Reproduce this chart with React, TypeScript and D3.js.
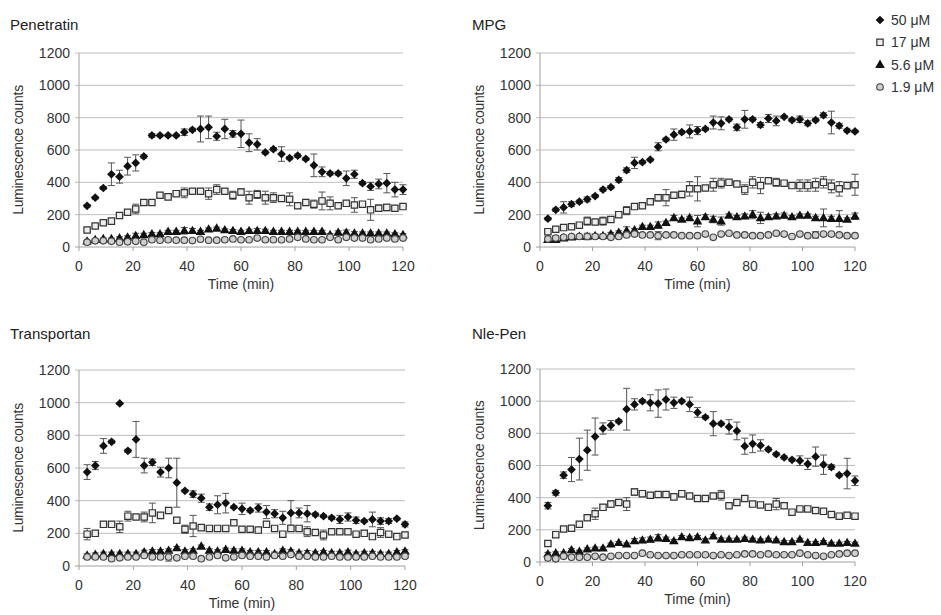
import React from "react";
import * as d3 from "d3";

// sampling times (min)
const times = [3, 6, 9, 12, 15, 18, 21, 24, 27, 30, 33, 36, 39, 42, 45, 48, 51, 54, 57, 60, 63, 66, 69, 72, 75, 78, 81, 84, 87, 90, 93, 96, 99, 102, 105, 108, 111, 114, 117, 120];
const yTicks = [0, 200, 400, 600, 800, 1000, 1200];
const xTicks = [0, 20, 40, 60, 80, 100, 120];
const concLabels = ["50 μM", "17 μM", "5.6 μM", "1.9 μM"];

// Penetratin
const pen50 = [255, 305, 365, 450, 435, 500, 520, 560, 690, 690, 690, 690, 710, 725, 730, 740, 685, 730, 700, 700, 645, 635, 585, 605, 575, 550, 565, 545, 505, 465, 455, 455, 425, 450, 395, 375, 390, 395, 355, 355];
const pen50Err = [8, 8, 8, 70, 40, 55, 50, 10, 12, 8, 8, 8, 20, 10, 80, 70, 25, 60, 20, 85, 55, 35, 10, 10, 45, 10, 10, 10, 70, 30, 10, 10, 45, 25, 10, 25, 30, 60, 45, 30];
const pen17 = [105, 130, 150, 160, 195, 215, 235, 275, 275, 320, 310, 330, 335, 345, 345, 330, 355, 345, 320, 340, 305, 325, 305, 305, 300, 295, 255, 275, 265, 285, 270, 255, 270, 260, 265, 230, 240, 245, 240, 250];
const pen17Err = [10, 8, 8, 8, 8, 8, 30, 15, 10, 10, 8, 10, 30, 10, 10, 35, 30, 10, 25, 20, 40, 25, 40, 30, 10, 40, 15, 10, 25, 55, 40, 10, 10, 45, 10, 65, 20, 20, 10, 10];
const pen56 = [35, 45, 50, 50, 55, 60, 70, 75, 80, 80, 95, 95, 100, 100, 95, 110, 115, 105, 100, 95, 100, 100, 100, 95, 95, 95, 95, 95, 95, 95, 75, 90, 90, 85, 85, 85, 85, 85, 80, 75];
const pen56Err = [5, 5, 5, 5, 8, 10, 15, 10, 10, 8, 8, 8, 20, 15, 8, 8, 8, 8, 8, 8, 10, 15, 10, 8, 8, 8, 8, 8, 8, 8, 8, 10, 15, 10, 8, 8, 8, 8, 8, 8];
const pen19 = [30, 38, 38, 35, 30, 32, 35, 30, 45, 42, 45, 42, 42, 40, 48, 42, 42, 45, 50, 45, 45, 55, 45, 45, 45, 50, 60, 50, 45, 45, 60, 45, 60, 55, 55, 45, 50, 55, 50, 55];
const pen19Err = [5, 6, 6, 6, 8, 8, 8, 5, 8, 6, 6, 6, 6, 6, 6, 6, 6, 6, 6, 6, 6, 8, 6, 6, 6, 8, 8, 6, 6, 6, 8, 6, 8, 8, 8, 6, 6, 6, 6, 6];

// MPG
const mpg50 = [175, 230, 245, 265, 280, 295, 315, 355, 370, 415, 475, 520, 525, 540, 620, 665, 695, 710, 715, 720, 730, 770, 765, 790, 740, 790, 790, 755, 795, 780, 805, 785, 790, 765, 785, 815, 770, 750, 720, 715];
const mpg50Err = [8, 10, 35, 15, 10, 15, 10, 10, 10, 15, 15, 35, 10, 8, 25, 10, 35, 10, 40, 25, 10, 40, 40, 10, 20, 55, 10, 15, 25, 30, 8, 10, 20, 15, 10, 15, 70, 15, 10, 8];
const mpg17 = [95, 110, 120, 125, 135, 160, 155, 160, 170, 200, 225, 250, 255, 280, 305, 305, 320, 325, 360, 360, 365, 385, 395, 400, 390, 355, 400, 380, 410, 400, 395, 380, 380, 380, 385, 400, 375, 360, 380, 385];
const mpg17Err = [8, 8, 8, 8, 10, 25, 10, 25, 15, 10, 25, 10, 10, 10, 20, 50, 15, 20, 45, 75, 15, 40, 30, 10, 15, 30, 35, 50, 10, 25, 10, 10, 35, 35, 40, 35, 40, 45, 20, 65];
const mpg56 = [45, 45, 55, 60, 65, 65, 70, 70, 80, 90, 100, 105, 125, 125, 135, 150, 180, 170, 180, 160, 185, 170, 160, 195, 185, 190, 200, 180, 185, 190, 195, 185, 195, 195, 180, 180, 175, 175, 170, 190];
const mpg56Err = [8, 8, 8, 8, 8, 8, 10, 10, 10, 10, 25, 10, 10, 10, 20, 10, 15, 10, 10, 35, 15, 20, 25, 10, 10, 15, 25, 35, 15, 15, 15, 10, 10, 10, 10, 55, 15, 50, 10, 20];
const mpg19 = [50, 55, 60, 65, 65, 65, 65, 65, 60, 65, 75, 80, 75, 75, 70, 75, 75, 70, 70, 70, 80, 60, 80, 85, 75, 75, 70, 70, 75, 85, 80, 65, 80, 70, 75, 80, 80, 75, 70, 70];
const mpg19Err = [10, 15, 10, 10, 8, 20, 10, 8, 8, 8, 10, 10, 8, 8, 25, 10, 10, 8, 8, 8, 8, 8, 8, 8, 8, 8, 8, 8, 8, 10, 8, 8, 8, 8, 20, 8, 8, 8, 8, 8];

// Transportan
const tra50 = [575, 615, 735, 760, 995, 705, 775, 615, 635, 575, 600, 510, 460, 440, 415, 360, 375, 385, 360, 350, 340, 355, 330, 320, 295, 325, 325, 320, 315, 305, 295, 285, 300, 280, 275, 285, 275, 275, 290, 255];
const tra50Err = [45, 25, 45, 10, 5, 10, 110, 45, 20, 30, 60, 150, 8, 20, 25, 20, 55, 60, 8, 35, 10, 25, 40, 25, 40, 75, 30, 50, 10, 8, 10, 25, 25, 20, 8, 45, 20, 15, 8, 15];
const tra17 = [195, 200, 255, 255, 240, 305, 300, 300, 325, 310, 340, 280, 225, 245, 235, 230, 230, 230, 265, 225, 225, 220, 255, 230, 195, 230, 230, 210, 205, 190, 210, 210, 210, 195, 200, 180, 205, 195, 180, 190];
const tra17Err = [35, 10, 10, 10, 35, 30, 10, 30, 60, 10, 10, 10, 25, 65, 10, 10, 10, 10, 10, 10, 10, 10, 10, 10, 15, 10, 10, 30, 10, 30, 10, 10, 10, 10, 15, 10, 30, 10, 10, 15];
const tra56 = [65, 70, 75, 75, 75, 75, 75, 85, 90, 90, 95, 110, 90, 95, 120, 95, 90, 100, 95, 95, 85, 85, 85, 75, 95, 90, 80, 80, 80, 85, 80, 80, 85, 75, 80, 80, 75, 75, 85, 90];
const tra56Err = [10, 10, 10, 10, 10, 10, 10, 12, 10, 10, 10, 10, 10, 10, 8, 10, 10, 10, 10, 10, 10, 10, 10, 10, 10, 10, 10, 15, 10, 10, 10, 10, 12, 10, 10, 10, 10, 10, 10, 10];
const tra19 = [55, 55, 55, 45, 50, 55, 55, 65, 55, 55, 55, 50, 60, 60, 45, 55, 65, 50, 55, 65, 60, 60, 55, 65, 60, 70, 60, 60, 55, 55, 60, 55, 55, 55, 55, 60, 55, 55, 55, 60];
const tra19Err = [8, 8, 8, 8, 8, 8, 8, 8, 8, 8, 25, 8, 8, 8, 8, 8, 8, 8, 8, 8, 8, 8, 8, 8, 8, 8, 8, 8, 8, 8, 8, 8, 8, 8, 8, 8, 8, 8, 8, 8];

// Nle-Pen
const nle50 = [350, 430, 540, 575, 640, 695, 780, 830, 850, 875, 950, 980, 1000, 990, 985, 1010, 990, 1000, 980, 930, 900, 860, 860, 840, 815, 720, 735, 725, 700, 670, 650, 635, 630, 610, 655, 605, 590, 540, 550, 505];
const nle50Err = [20, 15, 20, 75, 130, 125, 115, 35, 30, 10, 130, 35, 10, 50, 85, 65, 35, 10, 45, 30, 10, 75, 10, 45, 55, 50, 55, 35, 10, 10, 10, 10, 30, 35, 60, 60, 15, 10, 95, 30];
const nle17 = [115, 170, 205, 210, 235, 275, 300, 340, 360, 370, 360, 435, 425, 415, 420, 420, 405, 425, 410, 395, 395, 410, 415, 350, 370, 395, 360, 355, 340, 360, 350, 310, 330, 330, 320, 315, 295, 285, 290, 285];
const nle17Err = [10, 10, 10, 10, 10, 10, 35, 15, 20, 10, 40, 20, 10, 10, 10, 10, 10, 10, 10, 10, 10, 10, 30, 10, 10, 10, 10, 15, 10, 35, 15, 10, 10, 10, 10, 10, 10, 10, 10, 15];
const nle56 = [50, 55, 55, 75, 65, 80, 85, 85, 110, 120, 110, 130, 135, 140, 150, 145, 130, 155, 150, 155, 135, 160, 140, 140, 140, 145, 140, 135, 140, 135, 125, 125, 140, 120, 120, 125, 115, 115, 120, 115];
const nle56Err = [10, 8, 8, 8, 8, 8, 8, 8, 8, 8, 8, 15, 15, 15, 20, 10, 10, 10, 10, 10, 10, 10, 10, 8, 8, 10, 8, 8, 8, 8, 8, 8, 8, 8, 8, 8, 8, 8, 8, 8];
const nle19 = [25, 20, 35, 30, 30, 30, 35, 30, 35, 40, 40, 40, 55, 45, 40, 40, 40, 45, 45, 45, 45, 40, 45, 40, 45, 50, 50, 45, 50, 45, 45, 45, 55, 45, 40, 35, 45, 50, 55, 55];
const nle19Err = [8, 8, 6, 6, 6, 6, 6, 6, 6, 6, 6, 6, 6, 6, 6, 6, 6, 6, 6, 6, 6, 6, 6, 6, 6, 6, 6, 6, 6, 6, 6, 6, 6, 6, 6, 6, 6, 6, 6, 6];

const panelTitles = ["Penetratin", "MPG", "Transportan", "Nle-Pen"];
const panelSeries = [
  [[pen50, pen50Err], [pen17, pen17Err], [pen56, pen56Err], [pen19, pen19Err]],
  [[mpg50, mpg50Err], [mpg17, mpg17Err], [mpg56, mpg56Err], [mpg19, mpg19Err]],
  [[tra50, tra50Err], [tra17, tra17Err], [tra56, tra56Err], [tra19, tra19Err]],
  [[nle50, nle50Err], [nle17, nle17Err], [nle56, nle56Err], [nle19, nle19Err]],
];

// layout of each panel in page pixels
const layout = [
  { left: 79, right: 403, top: 53, bottom: 247, titleX: 10, titleY: 30 },
  { left: 540, right: 855, top: 53, bottom: 247, titleX: 472, titleY: 30 },
  { left: 79, right: 405, top: 370, bottom: 566, titleX: 10, titleY: 339 },
  { left: 540, right: 855, top: 369, bottom: 562, titleX: 472, titleY: 339 },
];

const font = "'Liberation Sans', Arial, sans-serif";
const textColor = "#333";
const gridColor = "#bdbdbd";
const axisColor = "#a0a0a0";
const barColor = "#555";

const diamondPath = d3.symbol(d3.symbolSquare, 38)();
const trianglePath = d3.symbol(d3.symbolTriangle, 40)();
const squarePath = d3.symbol(d3.symbolSquare, 40)();

function Marker({ kind, x, y }) {
  if (kind === 0)
    return <path d={diamondPath} transform={`translate(${x},${y}) rotate(45)`} fill="#111" />;
  if (kind === 1)
    return <path d={squarePath} transform={`translate(${x},${y})`} fill="#eeeeee" stroke="#333" strokeWidth={1.2} />;
  if (kind === 2)
    return <path d={trianglePath} transform={`translate(${x},${y + 0.5})`} fill="#111" />;
  return <circle cx={x} cy={y} r={3.3} fill="#cfcfcf" stroke="#444" strokeWidth={1.1} />;
}

function Panel({ idx }) {
  const L = layout[idx];
  const x = d3.scaleLinear().domain([0, 120]).range([L.left, L.right]);
  const y = d3.scaleLinear().domain([0, 1200]).range([L.bottom, L.top]);
  const series = panelSeries[idx];
  const midY = (L.top + L.bottom) / 2;
  return (
    <g>
      <text x={L.titleX} y={L.titleY} fontSize={15} fill="#222" fontFamily={font}>
        {panelTitles[idx]}
      </text>
      {yTicks.map((t) => (
        <g key={t}>
          <line x1={L.left - 4} x2={L.right} y1={y(t)} y2={y(t)} stroke={t === 0 ? axisColor : gridColor} strokeWidth={1} />
          <text x={L.left - 9} y={y(t)} dy="0.35em" textAnchor="end" fontSize={14} fill={textColor} fontFamily={font}>
            {t}
          </text>
        </g>
      ))}
      <line x1={L.left} x2={L.left} y1={L.top} y2={L.bottom} stroke={axisColor} />
      {xTicks.map((t) => (
        <g key={t}>
          <line x1={x(t)} x2={x(t)} y1={L.bottom} y2={L.bottom + 4} stroke={axisColor} />
          <text x={x(t)} y={L.bottom + 24} textAnchor="middle" fontSize={14} fill={textColor} fontFamily={font}>
            {t}
          </text>
        </g>
      ))}
      <text x={(L.left + L.right) / 2} y={L.bottom + 42} textAnchor="middle" fontSize={14} fill={textColor} fontFamily={font}>
        Time (min)
      </text>
      <text
        transform={`translate(${L.left - 56},${midY}) rotate(-90)`}
        textAnchor="middle"
        fontSize={14}
        fill={textColor}
        fontFamily={font}
        letterSpacing={-0.3}
      >
        Luminescence counts
      </text>
      {series.map(([vals, errs], s) => (
        <g key={s}>
          {vals.map((v, i) => {
            const cx = x(times[i]);
            const e = errs[i];
            return (
              <g key={i} stroke={barColor} strokeWidth={1}>
                <line x1={cx} x2={cx} y1={y(v - e)} y2={y(v + e)} />
                <line x1={cx - 3.5} x2={cx + 3.5} y1={y(v - e)} y2={y(v - e)} />
                <line x1={cx - 3.5} x2={cx + 3.5} y1={y(v + e)} y2={y(v + e)} />
              </g>
            );
          })}
          {vals.map((v, i) => (
            <Marker key={i} kind={s} x={x(times[i])} y={y(v)} />
          ))}
        </g>
      ))}
    </g>
  );
}

function Legend() {
  const rowY = d3.scaleLinear().domain([0, 3]).range([20, 87]);
  return (
    <g>
      {concLabels.map((lab, i) => (
        <g key={lab}>
          <Marker kind={i} x={880} y={rowY(i)} />
          <text x={891} y={rowY(i)} dy="0.35em" fontSize={14} fill={textColor} fontFamily={font}>
            {lab}
          </text>
        </g>
      ))}
    </g>
  );
}

export default function App() {
  return (
    <svg width={941} height={615} style={{ position: "absolute", left: 0, top: 0, background: "#fff" }}>
      {[0, 1, 2, 3].map((i) => (
        <Panel key={i} idx={i} />
      ))}
      <Legend />
    </svg>
  );
}
